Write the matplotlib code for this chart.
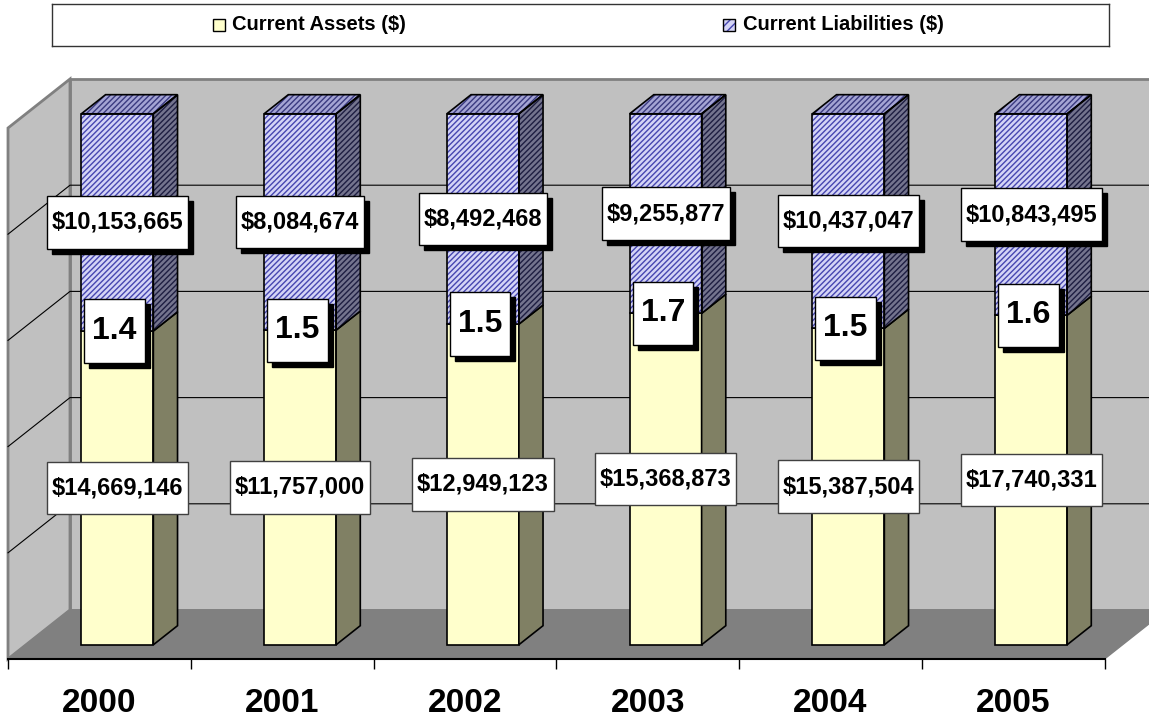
import matplotlib
matplotlib.use('Agg')
import matplotlib.pyplot as plt
from matplotlib.patches import Polygon, Rectangle
from matplotlib.path import Path
from matplotlib.transforms import offset_copy
import numpy as np

years = ['2000', '2001', '2002', '2003', '2004', '2005']
assets = [14669146, 11757000, 12949123, 15368873, 15387504, 17740331]
liabilities = [10153665, 8084674, 8492468, 9255877, 10437047, 10843495]
ratios = ['1.4', '1.5', '1.5', '1.7', '1.5', '1.6']
legend_labels = ['Current Assets ($)', 'Current Liabilities ($)']

plt.rcParams['font.family'] = ['Liberation Sans', 'DejaVu Sans']
plt.rcParams['font.weight'] = 'bold'
plt.rcParams['hatch.linewidth'] = 1.0

W, H = 1149, 718
fig = plt.figure(figsize=(W / 100, H / 100), dpi=100)

# front plane of the 3d box, in pixels
x0, x1 = 8, 1104.5
yb, yt = 659, 128
ax = fig.add_axes([x0 / W, 1 - yb / H, (x1 - x0) / W, (yb - yt) / H])
ax.set_xlim(-0.5, 5.5)
ax.set_ylim(0, 1)
ax.patch.set_visible(False)

# depth offset in data units
dx = 62 / ((x1 - x0) / 6)
dy = 49 / (yb - yt)
d0, d1 = 0.29, 0.68
bw = 0.394

## walls and floor
wall = '#c0c0c0'
ax.add_patch(Polygon([(-0.5 + dx, dy), (5.5 + dx, dy), (5.5 + dx, 1 + dy), (-0.5 + dx, 1 + dy)],
                     fc=wall, ec='#808080', lw=2, clip_on=False, zorder=0))
ax.add_patch(Polygon([(-0.5, 0), (-0.5, 1), (-0.5 + dx, 1 + dy), (-0.5 + dx, dy)],
                     fc=wall, ec='#808080', lw=2, clip_on=False, zorder=0))
ax.add_patch(Polygon([(-0.5, 0), (5.5, 0), (5.5 + dx, dy), (-0.5 + dx, dy)],
                     fc='#808080', ec='#808080', lw=1, clip_on=False, zorder=0.5))
for v in [0.2, 0.4, 0.6, 0.8]:
    ax.plot([-0.5, -0.5 + dx, 5.5 + dx], [v, v + dy, v + dy], color='black', lw=0.8,
            clip_on=False, zorder=1)

## axis
for s in ['top', 'left', 'right']:
    ax.spines[s].set_visible(False)
ax.spines['bottom'].set_linewidth(1.5)
ax.spines['bottom'].set_zorder(2)
ax.set_yticks([])
ax.set_xticks(range(6))
ax.set_xticklabels(years, fontsize=24, fontweight='bold')
ax.set_xticks(np.arange(-0.5, 6, 1), minor=True)
ax.tick_params(axis='x', which='major', length=0, pad=21)
ax.tick_params(axis='x', which='minor', length=7, width=1, color='black')

## bars
a = np.array(assets, dtype=float)
l = np.array(liabilities, dtype=float)
fa = a / (a + l)
xs = np.arange(6) + d0 * dx
base = d0 * dy
ddx = (d1 - d0) * dx
ddy = (d1 - d0) * dy

hatch = '//////'
front_l = dict(fc='#d4d4f6', ec='#4646b0', hatch=hatch, lw=0)
side_l = dict(fc='#74748e', ec='#1e1e42', hatch=hatch, lw=0)
top_l = dict(fc='#a4a4d4', ec='#3a3a80', hatch=hatch, lw=0)

ax.bar(xs, fa, bottom=base, width=bw, color='#ffffcc', edgecolor='black', lw=1.2,
       zorder=3, clip_on=False)
ax.bar(xs, 1 - fa, bottom=fa + base, width=bw, color=front_l['fc'], edgecolor=front_l['ec'],
       hatch=hatch, lw=0, zorder=3, clip_on=False)
ax.bar(xs, 1 - fa, bottom=fa + base, width=bw, fill=False, edgecolor='black', lw=1.2,
       zorder=3.1, clip_on=False)

for i in range(6):
    xr = xs[i] + bw / 2
    ym = fa[i] + base
    ytop = 1 + base
    side_a = [(xr, base), (xr + ddx, base + ddy), (xr + ddx, ym + ddy), (xr, ym)]
    side = [(xr, ym), (xr + ddx, ym + ddy), (xr + ddx, ytop + ddy), (xr, ytop)]
    top = [(xr - bw, ytop), (xr, ytop), (xr + ddx, ytop + ddy), (xr - bw + ddx, ytop + ddy)]
    ax.add_patch(Polygon(side_a, fc='#808064', ec='black', lw=1.2, zorder=3, clip_on=False))
    for poly, st in [(side, side_l), (top, top_l)]:
        ax.add_patch(Polygon(poly, zorder=3, clip_on=False, **st))
        ax.add_patch(Polygon(poly, fill=False, ec='black', lw=1.2, zorder=3.1, clip_on=False))


def make_box(padx, pady):
    def box(x, y, w, h, mutation_size):
        px = padx * mutation_size
        py = pady * mutation_size
        return Path([(x - px, y - py), (x + w + px, y - py), (x + w + px, y + h + py),
                     (x - px, y + h + py), (x - px, y - py)], closed=True)
    return box


def label(x, y, s, size, shadow, ec, padx, pady):
    bs = make_box(padx, pady)
    if shadow:
        tr = offset_copy(ax.transData, fig=fig, x=5, y=-5, units='dots')
        ax.text(x, y, s, transform=tr, fontsize=size, fontweight='bold', color='black',
                ha='center', va='center', zorder=5,
                bbox=dict(boxstyle=bs, fc='black', ec='black', lw=1))
    ax.text(x, y, s, fontsize=size, fontweight='bold', color='black', ha='center', va='center',
            zorder=6, bbox=dict(boxstyle=bs, fc='white', ec=ec, lw=1))


for i in range(6):
    label(xs[i], base + fa[i] / 2, '${:,}'.format(assets[i]), 17, False, '#404040', 0.2, 0.62)
    label(xs[i], base + (fa[i] + 1) / 2, '${:,}'.format(liabilities[i]), 17, True, 'black',
          0.2, 0.62)
    label(xs[i] - 0.015, base + fa[i], ratios[i], 23, True, 'black', 0.25, 0.52)

## legend
lg = fig.add_axes([52 / W, 1 - 45.5 / H, 1057 / W, 41.5 / H])
lg.set_xlim(0, 1057)
lg.set_ylim(41.5, 0)
lg.set_xticks([])
lg.set_yticks([])
for s in lg.spines.values():
    s.set_linewidth(1)
    s.set_color('#333333')
lg.add_patch(Rectangle((161, 15), 12, 12, fc='#ffffcc', ec='black', lw=1))
lg.add_patch(Rectangle((671, 15), 12, 12, fc=front_l['fc'], ec=front_l['ec'], hatch='////', lw=0))
lg.add_patch(Rectangle((671, 15), 12, 12, fill=False, ec='black', lw=1))
lg.text(180, 21, legend_labels[0], fontsize=14.5, fontweight='bold', va='center', ha='left')
lg.text(691, 21, legend_labels[1], fontsize=14.5, fontweight='bold', va='center', ha='left')

fig.savefig('out.png', dpi=100)
